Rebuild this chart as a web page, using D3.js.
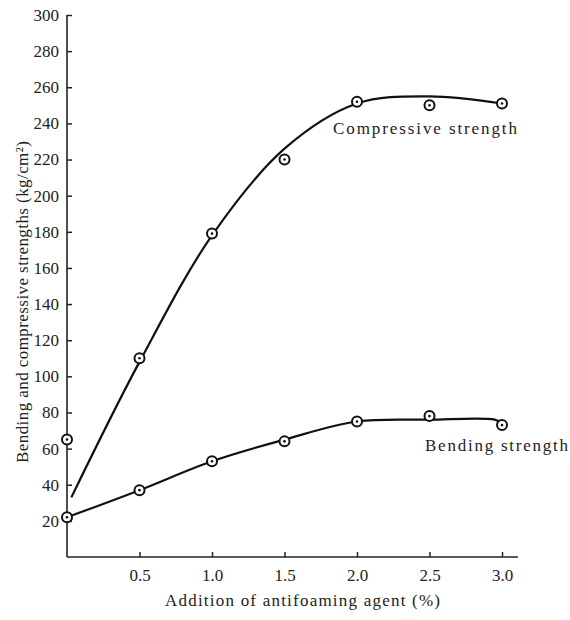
<!DOCTYPE html>
<html>
<head>
<meta charset="utf-8">
<script src="https://cdn.jsdelivr.net/npm/d3@7"></script>
<style>
  body { margin: 0; background: #fff; }
  svg { display: block; }
  text { font-family: "Liberation Serif", "DejaVu Serif", serif; fill: #222; }
</style>
</head>
<body>
<svg id="chart" width="570" height="620"></svg>
<script>
// ---- data ----
const additions = [0, 0.5, 1.0, 1.5, 2.0, 2.5, 3.0];
const compressivePoints = [65, 110, 179, 220, 252, 250, 251];
const bendingPoints = [22, 37, 53, 64, 75, 78, 73];
// smooth hand-fitted curves as drawn in the figure
const compressiveCurveX = [0.03, 0.5, 1.0, 1.5, 2.0, 2.5, 3.0];
const compressiveCurveY = [33, 108, 178, 226, 251, 255, 251];
const bendingCurveX = [0, 0.5, 1.0, 1.5, 2.0, 2.5, 2.95, 3.0];
const bendingCurveY = [22, 37, 53, 65, 75, 76, 76, 74];
const xTicks = [0.5, 1.0, 1.5, 2.0, 2.5, 3.0];
const yTicks = [20, 40, 60, 80, 100, 120, 140, 160, 180, 200, 220, 240, 260, 280, 300];

const serif = "'Liberation Serif', 'DejaVu Serif', serif";
const svg = d3.select("#chart");
const x = d3.scaleLinear().domain([0, 3]).range([67, 502]);
const y = d3.scaleLinear().domain([0, 300]).range([557, 15]);

// axes
const xAxis = d3.axisBottom(x).tickValues(xTicks).tickFormat(d3.format(".1f")).tickSize(-5).tickPadding(12);
const gx = svg.append("g").attr("transform", `translate(0,${y(0)})`).call(xAxis)
  .attr("font-family", serif).attr("font-size", 17);
gx.select(".domain").attr("d", `M${x(0)},0H518`).attr("stroke", "#222").attr("stroke-width", 1.6);
gx.selectAll(".tick line").attr("stroke", "#222").attr("stroke-width", 1.5);
gx.selectAll(".tick text").attr("fill", "#222");

const yAxis = d3.axisLeft(y).tickValues(yTicks).tickSize(-5).tickPadding(8);
const gy = svg.append("g").attr("transform", `translate(${x(0)},0)`).call(yAxis)
  .attr("font-family", serif).attr("font-size", 17);
gy.select(".domain").attr("d", `M0,${y(0)}V${y(300)}`).attr("stroke", "#222").attr("stroke-width", 1.6);
gy.selectAll(".tick line").attr("stroke", "#222").attr("stroke-width", 1.5);
gy.selectAll(".tick text").attr("fill", "#222");

// curves
const line = d3.line().x(d => x(d[0])).y(d => y(d[1])).curve(d3.curveCatmullRom.alpha(0.5));
svg.append("path")
  .datum(compressiveCurveX.map((v, i) => [v, compressiveCurveY[i]]))
  .attr("d", line).attr("fill", "none").attr("stroke", "#111").attr("stroke-width", 2.2);
svg.append("path")
  .datum(bendingCurveX.map((v, i) => [v, bendingCurveY[i]]))
  .attr("d", line).attr("fill", "none").attr("stroke", "#111").attr("stroke-width", 2.2);

// markers
function markers(vals) {
  const g = svg.append("g");
  const pts = additions.map((a, i) => [a, vals[i]]);
  g.selectAll("circle.o").data(pts).join("circle")
    .attr("cx", d => x(d[0])).attr("cy", d => y(d[1])).attr("r", 5)
    .attr("fill", "#fff").attr("stroke", "#111").attr("stroke-width", 2);
  g.selectAll("circle.i").data(pts).join("circle").attr("class", "i")
    .attr("cx", d => x(d[0])).attr("cy", d => y(d[1])).attr("r", 1.3)
    .attr("fill", "#111");
}
markers(compressivePoints);
markers(bendingPoints);

// labels
svg.append("text").attr("x", 333).attr("y", 134).attr("textLength", 184)
  .style("font-size", "17px").text("Compressive strength");
svg.append("text").attr("x", 425).attr("y", 451).attr("textLength", 143)
  .style("font-size", "17px").text("Bending strength");
svg.append("text").attr("x", 165).attr("y", 606).attr("textLength", 275)
  .style("font-size", "17px").text("Addition of antifoaming agent (%)");
svg.append("text")
  .attr("transform", "translate(28,302) rotate(-90)")
  .attr("text-anchor", "middle").attr("textLength", 322)
  .style("font-size", "17px").text("Bending and compressive strengths (kg/cm²)");
</script>
</body>
</html>
